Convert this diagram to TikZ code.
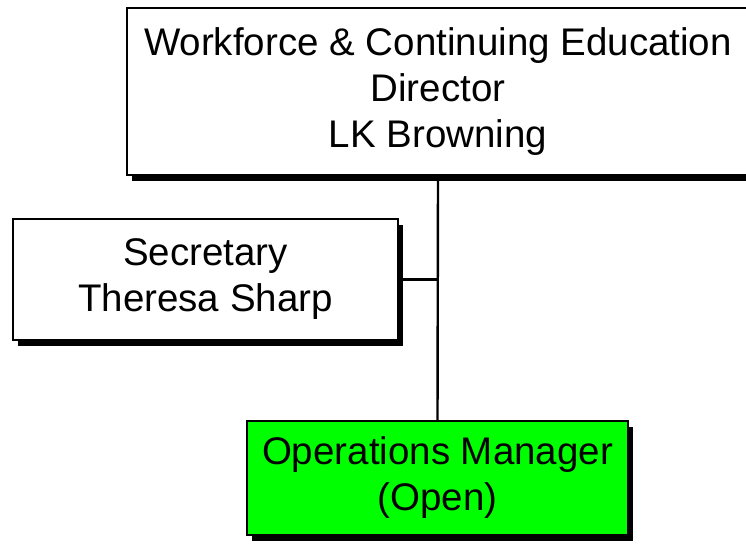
\documentclass[tikz,border=0pt]{standalone}
\usepackage{fontspec}
\setmainfont{Liberation Sans}
\usetikzlibrary{shadows}
\definecolor{opsgreen}{RGB}{0,255,0}
\begin{document}
\begin{tikzpicture}[x=1pt,y=1pt,
  orgbox/.style={draw=black, line width=1.8pt, fill=white, align=center,
    inner sep=0pt, font=\fontsize{38.5}{46}\selectfont,
    drop shadow={shadow xshift=5pt, shadow yshift=-6pt, fill=black, opacity=1}},
  link/.style={line width=2.4pt, draw=black}]
\useasboundingbox (0,0) rectangle (746,-548);
\node[orgbox, minimum width=622pt, minimum height=167pt] (top) at (438,-91.5)
  {Workforce \& Continuing Education\\Director\\LK Browning};
\node[orgbox, minimum width=385pt, minimum height=121pt] (sec) at (205.5,-279.5)
  {Secretary\\Theresa Sharp};
\node[orgbox, fill=opsgreen, minimum width=381pt, minimum height=114pt] (ops) at (437.5,-478)
  {Operations Manager\\(Open)};
\draw[link] (top.south) -- (ops.north);
\draw[link] (sec.east) -- (sec.east -| top.south);
\end{tikzpicture}
\end{document}
